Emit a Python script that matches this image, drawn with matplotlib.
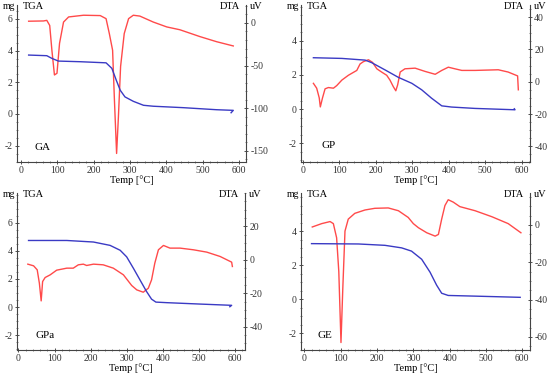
import matplotlib
matplotlib.use('Agg')
import matplotlib.pyplot as plt
from matplotlib.ticker import MultipleLocator

plt.rcParams['axes.unicode_minus'] = False

# GA
ga_tga_t  = [21, 71, 85, 103, 163, 234, 250, 262, 273, 286, 309, 337, 364, 446, 538, 584, 578]
ga_tga_mg = [3.72, 3.68, 3.51, 3.34, 3.30, 3.23, 2.88, 2.14, 1.50, 1.08, 0.80, 0.55, 0.49, 0.40, 0.27, 0.23, 0.08]
ga_dta_t  = [21, 62, 71, 79, 85, 92, 99, 106, 117, 131, 172, 218, 234, 243, 252, 257, 263, 268, 274, 284,
             296, 309, 327, 364, 401, 437, 492, 538, 584]
ga_dta_uv = [2, 2.3, 3, -3, -32, -61, -59, -24, 1, 7, 9, 8.6, 5, -12.5, -32, -90, -153, -110, -51, -12.5,
             5, 9, 8, 1, -4.7, -8, -16, -22, -27]

# GP
gp_tga_t  = [29, 107, 171, 189, 226, 262, 299, 326, 353, 381, 408, 472, 582, 580]
gp_tga_mg = [3.01, 2.97, 2.87, 2.72, 2.29, 1.86, 1.51, 1.13, 0.64, 0.19, 0.12, 0.04, -0.04, 0.02]
gp_dta_t  = [29, 38, 45, 48, 54, 61, 70, 84, 93, 107, 125, 148, 157, 166, 180, 191, 203, 216, 230, 239,
             248, 255, 260, 267, 280, 308, 335, 363, 381, 399, 417, 436, 472, 536, 563, 589, 591]
gp_dta_uv = [-1, -4, -10, -15.6, -10, -4.4, -3.6, -4, -2.4, 1, 4, 7, 11, 12.4, 13.6, 12, 8, 6, 4, 1,
             -3, -5.6, -2, 6, 8, 8.4, 6.4, 4.6, 7, 9, 8, 7, 7, 7.4, 6, 3.6, -5]

# GPa
gpa_tga_t  = [28, 134, 208, 254, 282, 300, 319, 337, 355, 369, 381, 411, 503, 591, 586]
gpa_tga_mg = [4.75, 4.75, 4.64, 4.40, 4.05, 3.58, 2.75, 1.93, 1.11, 0.56, 0.35, 0.31, 0.21, 0.12, 0.02]
gpa_dta_t  = [26, 42, 52, 58, 63, 67, 74, 88, 106, 134, 152, 166, 180, 189, 208, 235, 263, 291, 314, 328,
              346, 360, 369, 378, 388, 402, 420, 448, 485, 522, 559, 591, 593]
gpa_dta_uv = [-2.6, -3.6, -6, -14, -24.6, -13, -10.6, -9, -6.2, -5, -5, -3, -2.6, -3.4, -2.6, -3, -5, -9, -15.4, -18,
              -19.4, -17, -12, -2, 6, 8.6, 7, 7, 6, 4.6, 2, -1.4, -4]

# GE
ge_tga_t  = [20, 149, 222, 268, 295, 323, 346, 364, 378, 396, 470, 594]
ge_tga_mg = [3.26, 3.24, 3.16, 3.01, 2.82, 2.34, 1.58, 0.82, 0.34, 0.21, 0.17, 0.10]
ge_dta_t  = [22, 48, 71, 80, 89, 95, 101, 106, 112, 121, 139, 167, 194, 231, 259, 286, 300, 314, 337, 360,
             369, 378, 387, 396, 410, 428, 470, 516, 561, 596]
ge_dta_uv = [-1.1, 0.7, 1.8, 0.7, -6.9, -25, -63, -34, -3.3, 3.1, 6.2, 8, 8.9, 9.1, 7.6, 4, 0.7, -1.5, -4.2, -6,
             -5.1, 3.1, 10.4, 13.5, 12.2, 9.8, 7.6, 4.4, 0.7, -4.2]

x_ticks = [0, 100, 200, 300, 400, 500, 600]

RED = '#ff4a4a'
BLUE = '#3a3ac4'
FONT = 'Liberation Serif'
W, H = 550, 376

def style(ax, side):
    for s in ['top', 'left', 'right', 'bottom']:
        ax.spines[s].set_visible(False)
    for s in side:
        ax.spines[s].set_visible(True)
        ax.spines[s].set_linewidth(0.8)
        ax.spines[s].set_color('#444444')
    ax.tick_params(which='major', direction='inout', length=3, width=0.6, labelsize=7,
                   pad=1.5, colors='#333333')
    ax.tick_params(which='minor', direction='inout', length=2, width=0.5, colors='#555555')
    for lab in ax.get_xticklabels() + ax.get_yticklabels():
        lab.set_fontfamily(FONT)

def panel(fig, box, tga_t, tga_mg, dta_t, dta_uv, xlim, ylim_l, ylim_r, yt_l, yt_r, step_r, name, name_xy):
    l, t, r, b = box
    ax = fig.add_axes([l / W, 1 - b / H, (r - l) / W, (b - t) / H])
    ax2 = ax.twinx()
    ax.patch.set_alpha(0)

    ax.plot(tga_t, tga_mg, color=BLUE, lw=1.0, zorder=3)
    ax2.plot(dta_t, dta_uv, color=RED, lw=1.0)

    ax.set_xlim(xlim)
    ax.set_ylim(ylim_l)
    ax2.set_ylim(ylim_r)
    ax.set_xticks(x_ticks)
    ax.set_yticks(yt_l)
    ax2.set_yticks(yt_r)
    ax.xaxis.set_minor_locator(MultipleLocator(20))
    ax.yaxis.set_minor_locator(MultipleLocator(0.5))
    ax2.yaxis.set_minor_locator(MultipleLocator(step_r))

    style(ax, ['left', 'bottom'])
    style(ax2, ['right'])
    ax.set_zorder(ax2.get_zorder() + 1)

    # header labels sit just above the top of the spines
    top = 1 + 3 / (b - t)
    ax.set_xlabel('Temp [°C]', fontsize=7.5, family=FONT, labelpad=0)
    ax.text(-0.01, top, 'mg', transform=ax.transAxes, ha='right', va='top', fontsize=7, family=FONT)
    ax.text(0.025, top, 'TGA', transform=ax.transAxes, ha='left', va='top', fontsize=7.5, family=FONT)
    ax.text(0.975, top, 'DTA', transform=ax.transAxes, ha='right', va='top', fontsize=7.5, family=FONT)
    ax.text(1.015, top, 'uV', transform=ax.transAxes, ha='left', va='top', fontsize=7.5, family=FONT)
    fig.text(name_xy[0] / W, 1 - name_xy[1] / H, name, ha='left', va='center', fontsize=8, family=FONT)

fig = plt.figure(figsize=(5.5, 3.76), dpi=100)

panel(fig, (17, 5, 246, 162), ga_tga_t, ga_tga_mg, ga_dta_t, ga_dta_uv,
      (-11, 619), (-3.03, 6.88), (-163, 21), [-2, 0, 2, 4, 6], [-150, -100, -50, 0], 10, 'GA', (35, 147))
panel(fig, (301, 5, 530, 162), gp_tga_t, gp_tga_mg, gp_dta_t, gp_dta_uv,
      (-5, 623), (-3.1, 6.1), (-49.7, 47.5), [-2, 0, 2, 4], [-40, -20, 0, 20, 40], 5, 'GP', (321, 145))
panel(fig, (17, 193, 245, 350), gpa_tga_t, gpa_tga_mg, gpa_dta_t, gpa_dta_uv,
      (-4, 628), (-3.07, 8.14), (-54, 40), [-2, 0, 2, 4, 6], [-40, -20, 0, 20], 5, 'GPa', (36, 335))
panel(fig, (301, 193, 530, 350), ge_tga_t, ge_tga_mg, ge_dta_t, ge_dta_uv,
      (-9, 621), (-3.0, 6.24), (-67, 17.1), [-2, 0, 2, 4], [-60, -40, -20, 0], 5, 'GE', (317, 335))

fig.savefig('out.png', dpi=100)
